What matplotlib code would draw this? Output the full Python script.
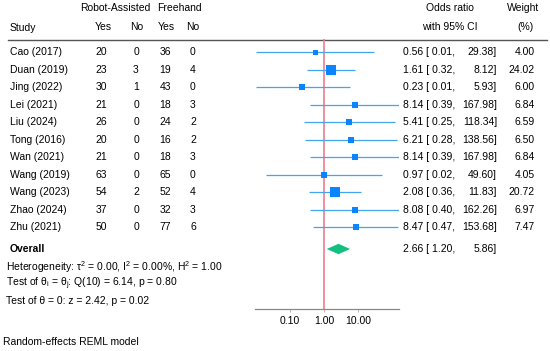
import matplotlib
matplotlib.use("Agg")
import matplotlib.pyplot as plt
import numpy as np

plt.rcParams['font.family'] = ['Liberation Sans', 'DejaVu Sans']
plt.rcParams['mathtext.fontset'] = 'custom'
plt.rcParams['mathtext.rm'] = 'Liberation Sans'
plt.rcParams['mathtext.it'] = 'Liberation Sans:italic'
plt.rcParams['mathtext.bf'] = 'Liberation Sans:bold'

studies = ["Cao (2017)", "Duan (2019)", "Jing (2022)", "Lei (2021)", "Liu (2024)",
           "Tong (2016)", "Wan (2021)", "Wang (2019)", "Wang (2023)", "Zhao (2024)",
           "Zhu (2021)"]
ra_yes = [20, 23, 30, 21, 26, 20, 21, 63, 54, 37, 50]
ra_no = [0, 3, 1, 0, 0, 0, 0, 0, 2, 0, 0]
fh_yes = [36, 19, 43, 18, 24, 16, 18, 65, 52, 32, 77]
fh_no = [0, 4, 0, 3, 2, 2, 3, 0, 4, 3, 6]
odds = [0.56, 1.61, 0.23, 8.14, 5.41, 6.21, 8.14, 0.97, 2.08, 8.08, 8.47]
ci_low = [0.01, 0.32, 0.01, 0.39, 0.25, 0.28, 0.39, 0.02, 0.36, 0.40, 0.47]
ci_high = [29.38, 8.12, 5.93, 167.98, 118.34, 138.56, 167.98, 49.60, 11.83, 162.26, 153.68]
weights = [4.00, 24.02, 6.00, 6.84, 6.59, 6.50, 6.84, 4.05, 20.72, 6.97, 7.47]
overall = (2.66, 1.20, 5.86)
ticks = [0.1, 1, 10]
tick_labels = ["0.10", "1.00", "10.00"]

W, H = 550, 351
fig = plt.figure(figsize=(W / 100, H / 100), dpi=100)

# text/layout axes in pixel coordinates
tax = fig.add_axes([0, 0, 1, 1])
tax.set_xlim(0, W)
tax.set_ylim(H, 0)
tax.axis('off')

# forest axes
ax_top, ax_bot = 39, 309
ax_l, ax_r = 255, 399
ax = fig.add_axes([ax_l / W, (H - ax_bot) / H, (ax_r - ax_l) / W, (ax_bot - ax_top) / H])
ax.set_xscale('log')
ax.set_xlim(10 ** -2.03, 10 ** 2.205)
ax.set_ylim(ax_bot, ax_top)
ax.patch.set_alpha(0)
for s in ['top', 'right', 'left']:
    ax.spines[s].set_visible(False)
ax.spines['bottom'].set_color('#888888')
ax.spines['bottom'].set_linewidth(0.9)
ax.set_yticks([])
ax.set_xticks(ticks)
ax.set_xticklabels(tick_labels)
ax.xaxis.set_minor_locator(matplotlib.ticker.NullLocator())
ax.tick_params(axis='x', length=2, width=0.6, color='#aaaaaa', labelsize=7.5, pad=3)

fs = 7.5
row0, dy = 52.3, 17.5
row_y = [row0 + dy * i for i in range(len(studies))]

blue = '#0a84ff'
ci_col = '#45a3ef'
for i in range(len(studies)):
    y = row_y[i]
    ax.plot([ci_low[i], ci_high[i]], [y, y], color=ci_col, lw=0.9, solid_capstyle='butt', zorder=2)
    area_px = 7.2 + 4.45 * weights[i]
    ax.scatter([odds[i]], [y], s=area_px * 0.5184, marker='s', color=blue, linewidths=0, zorder=3)

ax.axvline(1, color='#ee7d8d', lw=1.2, zorder=1)

oy = 249
o, lo, hi = overall
ax.fill([lo, o, hi, o], [oy, oy - 5.2, oy, oy + 5.2], color='#13c07f', lw=0, zorder=3)

# header
tax.text(115, 8, "Robot-Assisted", ha='center', va='center', fontsize=fs)
tax.text(179.5, 8, "Freehand", ha='center', va='center', fontsize=fs)
tax.text(450, 8, "Odds ratio", ha='center', va='center', fontsize=fs)
tax.text(523, 8, "Weight", ha='center', va='center', fontsize=fs)
tax.text(10, 28, "Study", ha='left', va='center', fontsize=fs)
for x, t in zip([103, 137, 166, 193], ["Yes", "No", "Yes", "No"]):
    tax.text(x, 27, t, ha='center', va='center', fontsize=fs)
tax.text(450, 27, "with 95% CI", ha='center', va='center', fontsize=fs)
tax.text(525, 27, "(%)", ha='center', va='center', fontsize=fs)
tax.plot([8, 547], [39.5, 39.5], color='#555555', lw=1.0)

for i in range(len(studies)):
    y = row_y[i]
    tax.text(10, y, studies[i], ha='left', va='center', fontsize=fs)
    tax.text(101, y, str(ra_yes[i]), ha='center', va='center', fontsize=fs)
    tax.text(136, y, str(ra_no[i]), ha='center', va='center', fontsize=fs)
    tax.text(165, y, str(fh_yes[i]), ha='center', va='center', fontsize=fs)
    tax.text(193, y, str(fh_no[i]), ha='center', va='center', fontsize=fs)
    tax.text(403, y, f"{odds[i]:.2f} [ {ci_low[i]:.2f},", ha='left', va='center', fontsize=fs)
    tax.text(497, y, f"{ci_high[i]:.2f}]", ha='right', va='center', fontsize=fs)
    tax.text(535, y, f"{weights[i]:.2f}", ha='right', va='center', fontsize=fs)

tax.text(10, oy, "Overall", ha='left', va='center', fontsize=fs, fontweight='bold')
tax.text(403, oy, f"{o:.2f} [ {lo:.2f},", ha='left', va='center', fontsize=fs)
tax.text(497, oy, f"{hi:.2f}]", ha='right', va='center', fontsize=fs)

tax.text(6, 267, r"Heterogeneity: τ$^{2}$ = 0.00, I$^{2}$ = 0.00%, H$^{2}$ = 1.00",
         ha='left', va='center', fontsize=fs)
tax.text(6, 284, r"Test of θ$_{\mathrm{i}}$ = θ$_{\mathrm{j}}$: Q(10) = 6.14, p = 0.80",
         ha='left', va='center', fontsize=fs)
tax.text(6, 301, "Test of θ = 0: z = 2.42, p = 0.02", ha='left', va='center', fontsize=fs)
tax.text(3, 342, "Random-effects REML model", ha='left', va='center', fontsize=fs)

fig.savefig("out.png", dpi=100)
